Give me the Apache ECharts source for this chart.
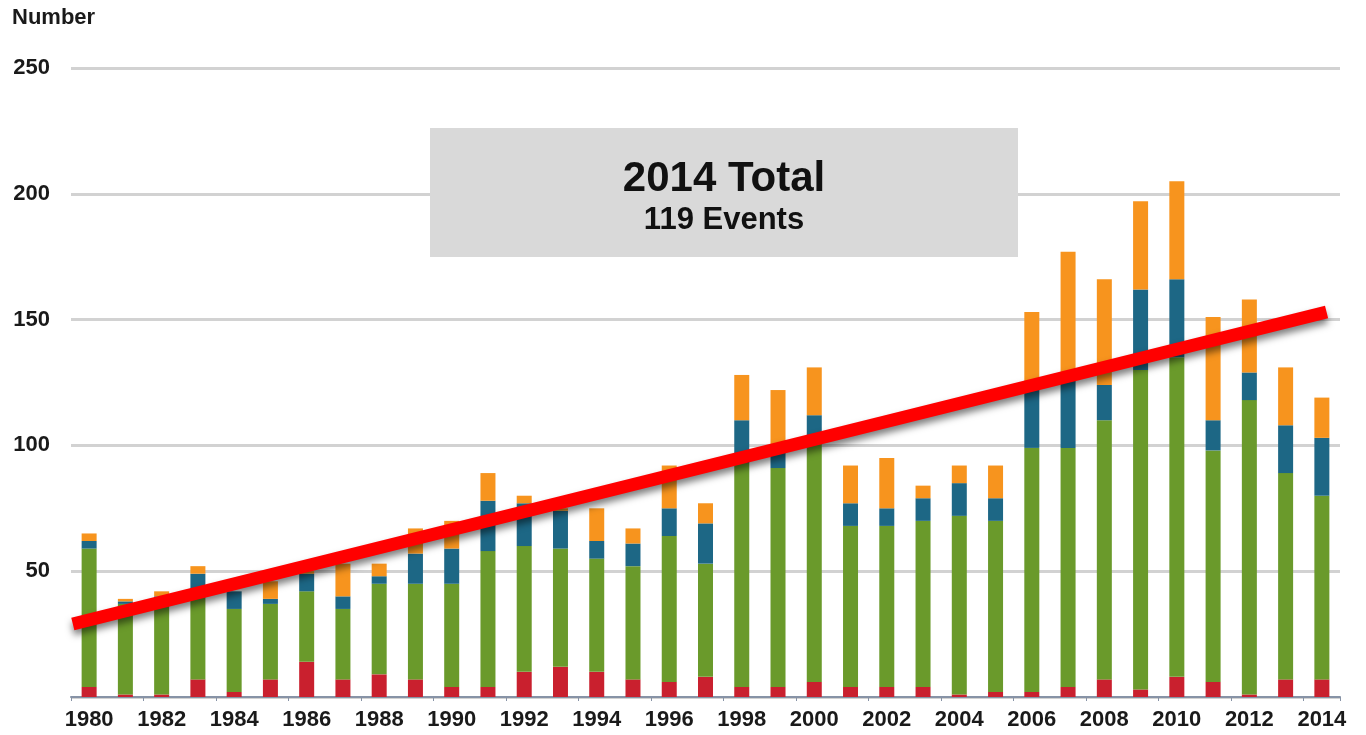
<!DOCTYPE html>
<html lang="en">
<head>
<meta charset="UTF-8">
<title>Events per year</title>
<script src="https://cdn.jsdelivr.net/npm/echarts@6/dist/echarts.min.js"></script>
<style>
  html, body { margin: 0; padding: 0; background: #fff; }
  #container { width: 1366px; height: 735px; }
</style>
</head>
<body>
<div id="container"></div>
<script type="text/javascript">
// data
var years = [];
for (var y = 1980; y <= 2014; y++) years.push(String(y));

var redVals    = [4,1,1,7,2,7,14,7,9,7,4,4,10,12,10,7,6,8,4,4,6,4,4,4,1,2,2,4,7,3,8,6,1,7,7];
var greenVals  = [55,36,38,33,33,30,28,28,36,38,41,54,50,47,45,45,58,45,89,87,95,64,64,66,71,68,97,95,103,127,127,92,117,82,73];
var tealVals   = [3,1,1,9,7,2,7,5,3,12,14,20,17,15,7,9,11,16,17,6,11,9,7,9,13,9,25,28,14,32,31,12,11,19,23];
var orangeVals = [3,1,2,3,0,7,1,13,5,10,11,11,3,1,13,6,17,8,18,25,19,15,20,5,7,13,29,50,42,35,39,41,29,23,16];

// trend line: x in category index units, y in events
var trendX = [-0.45, 34.13];
var trendY = [29, 153];

var yTicks = [0, 50, 100, 150, 200, 250];

var font = "'Liberation Sans', Arial, sans-serif";
var dom = document.getElementById("container");
var myChart = echarts.init(dom);

function barSeries(name, data, color) {
    return {
        name: name,
        type: 'bar',
        stack: 'total',
        barWidth: 15,
        itemStyle: { color: color },
        data: data
    };
}

var option = {
    animation: false,
    backgroundColor: '#fff',
    textStyle: { fontFamily: font },
    grid: { left: 71, right: 26, top: 68, bottom: 38 },
    xAxis: [
        {
            type: 'category',
            data: years,
            axisLine: { lineStyle: { color: '#8793a6', width: 2 } },
            axisTick: { show: true, length: 4, lineStyle: { color: '#8793a6' } },
            axisLabel: {
                interval: 1,
                color: '#1a1a1a',
                fontSize: 22,
                fontWeight: 'bold',
                fontFamily: font,
                margin: 12
            }
        },
        {//hidden axis for the trend line
            type: 'value',
            min: -0.5,
            max: 34.5,
            show: false
        }
    ],
    yAxis: {
        type: 'value',
        min: yTicks[0],
        max: yTicks[yTicks.length - 1],
        interval: 50,
        axisLine: { show: false },
        axisTick: { show: false },
        axisLabel: {
            showMinLabel: false,
            color: '#1a1a1a',
            fontSize: 22,
            fontWeight: 'bold',
            fontFamily: font,
            margin: 21
        },
        splitLine: { lineStyle: { color: '#d2d2d2', width: 3 } }
    },
    graphic: [
        {
            type: 'text',
            left: 12,
            top: 7,
            style: { text: 'Number', fill: '#1a1a1a', font: 'bold 22px ' + font }
        },
        {
            type: 'rect',
            z: 100,
            shape: { x: 430, y: 128, width: 588, height: 129 },
            style: { fill: '#d9d9d9' }
        },
        {
            type: 'text',
            z: 101,
            x: 724, y: 179,
            style: {
                text: '2014 Total', fill: '#111',
                font: 'bold 42px ' + font,
                align: 'center', verticalAlign: 'middle'
            }
        },
        {
            type: 'text',
            z: 101,
            x: 724, y: 220,
            style: {
                text: '119 Events', fill: '#111',
                font: 'bold 31px ' + font,
                align: 'center', verticalAlign: 'middle'
            }
        }
    ],
    series: [
        barSeries('red', redVals, '#c9202e'),
        barSeries('green', greenVals, '#6a9a2b'),
        barSeries('teal', tealVals, '#1d6785'),
        barSeries('orange', orangeVals, '#f7941e'),
        {
            type: 'line',
            xAxisIndex: 1,
            z: 10,
            symbol: 'none',
            lineStyle: {
                color: '#ff0000',
                width: 13,
                shadowColor: 'rgba(0,0,0,0.5)',
                shadowBlur: 7,
                shadowOffsetY: 5
            },
            data: [[trendX[0], trendY[0]], [trendX[1], trendY[1]]]
        }
    ]
};

if (option && typeof option === "object") {
    myChart.setOption(option, true);
}
</script>
</body>
</html>
